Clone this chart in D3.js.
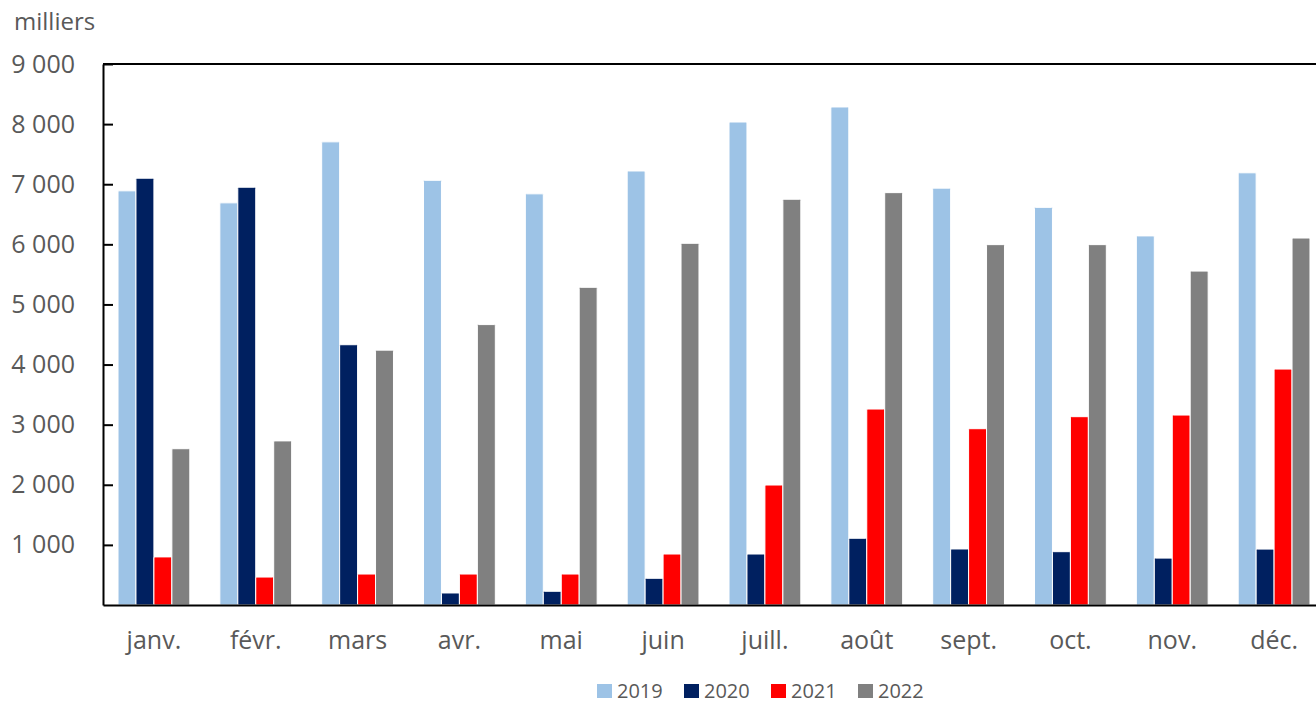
<!DOCTYPE html>
<html>
<head>
<meta charset="utf-8">
<script src="https://cdn.jsdelivr.net/npm/d3@7"></script>
<style>
  body { margin: 0; background: #fff; }
  text { font-family: "Open Sans", "Liberation Sans", sans-serif; fill: #595959; }
</style>
</head>
<body>
<script>
// Data (thousands)
var months = ["janv.", "févr.", "mars", "avr.", "mai", "juin", "juill.", "août", "sept.", "oct.", "nov.", "déc."];
var years = ["2019", "2020", "2021", "2022"];
var v2019 = [6890, 6690, 7705, 7065, 6840, 7220, 8035, 8285, 6935, 6615, 6140, 7190];
var v2020 = [7100, 6950, 4330, 200, 228, 444, 848, 1110, 932, 887, 780, 930];
var v2021 = [800, 465, 515, 515, 515, 848, 1996, 3260, 2933, 3133, 3160, 3925];
var v2022 = [2600, 2730, 4240, 4665, 5285, 6017, 6750, 6860, 5995, 5995, 5555, 6105];
var yTicks = [1000, 2000, 3000, 4000, 5000, 6000, 7000, 8000, 9000];
var colors = ["#9DC3E6", "#002060", "#FF0000", "#808080"];

var series = [v2019, v2020, v2021, v2022];

var width = 1316, height = 704;
// plot box (right edge runs past the picture, as in the original)
var plotLeft = 103, plotTop = 64, plotBottom = 605, plotRight = 1325;

var svg = d3.select("body").append("svg")
  .attr("width", width)
  .attr("height", height);

// scales
var x = d3.scaleBand()
  .domain(months)
  .range([plotLeft, plotRight])
  .paddingInner(0.295)
  .paddingOuter(0.1475);

var xSub = d3.scaleBand()
  .domain(years)
  .range([0, x.bandwidth()]);

var y = d3.scaleLinear()
  .domain([0, 9000])
  .range([plotBottom, plotTop]);

// bars
var groups = svg.selectAll("g.month")
  .data(months)
  .enter()
  .append("g")
  .attr("class", "month")
  .attr("transform", d => "translate(" + x(d) + ",0)");

groups.selectAll("rect")
  .data((m, i) => years.map((yr, j) => ({ year: yr, value: series[j][i], color: colors[j] })))
  .enter()
  .append("rect")
  .attr("x", d => xSub(d.year))
  .attr("y", d => y(d.value))
  .attr("width", xSub.bandwidth())
  .attr("height", d => plotBottom - y(d.value))
  .attr("rx", 1)
  .style("fill", d => d.color)
  .style("stroke", "#fff")
  .style("stroke-width", 1);

// y axis with inward ticks
var yAxis = svg.append("g")
  .attr("transform", "translate(" + plotLeft + ",0)")
  .call(d3.axisLeft(y).tickValues(yTicks).tickSizeInner(-10).tickSizeOuter(0).tickPadding(28)
    .tickFormat(d => d3.format(",")(d).replace(",", " ")));
yAxis.select(".domain").attr("stroke", "#000").attr("stroke-width", 2);
yAxis.selectAll(".tick line").attr("stroke", "#000").attr("stroke-width", 2);
yAxis.selectAll(".tick text")
  .attr("font-size", 25)
  .style("fill", "#595959")
  .style("font-family", "'Open Sans', sans-serif");

// x axis
var xAxis = svg.append("g")
  .attr("transform", "translate(0," + plotBottom + ")")
  .call(d3.axisBottom(x).tickSize(0).tickPadding(26));
xAxis.select(".domain").attr("stroke", "#000").attr("stroke-width", 2);
xAxis.selectAll(".tick text")
  .attr("font-size", 25)
  .style("fill", "#595959")
  .style("font-family", "'Open Sans', sans-serif");

// top border
svg.append("line")
  .attr("x1", plotLeft).attr("x2", plotRight)
  .attr("y1", plotTop).attr("y2", plotTop)
  .attr("stroke", "#000").attr("stroke-width", 2);

// unit label
svg.append("text")
  .attr("x", 14)
  .attr("y", 30)
  .attr("font-size", 24)
  .text("milliers");

// legend
var legend = svg.selectAll("g.legend")
  .data(years)
  .enter()
  .append("g")
  .attr("class", "legend")
  .attr("transform", (d, i) => "translate(" + (597 + i * 87) + ",684)");

legend.append("rect")
  .attr("width", 15)
  .attr("height", 14)
  .style("fill", (d, i) => colors[i]);

legend.append("text")
  .attr("x", 20)
  .attr("y", 14)
  .attr("font-size", 20)
  .text(d => d);
</script>
</body>
</html>
